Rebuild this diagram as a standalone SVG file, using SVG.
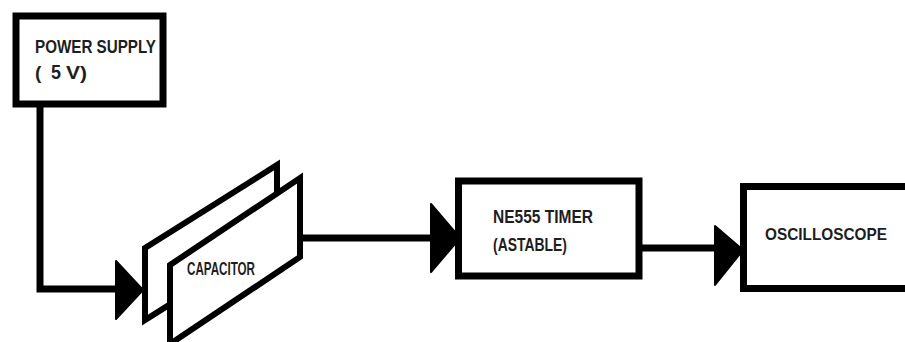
<svg xmlns="http://www.w3.org/2000/svg" width="905" height="342" viewBox="0 0 905 342">
<style>
.box{fill:#fff;stroke:#000;stroke-width:7}
.plate{fill:#fff;stroke:#000;stroke-width:6;stroke-linejoin:miter}
.wire{fill:none;stroke:#000;stroke-width:7}
.head{fill:#000;stroke:#000;stroke-width:2;stroke-linejoin:round}
.lbl{font-family:"Liberation Sans",Arial,sans-serif;font-weight:bold;fill:#1e1e1e;font-size:19px}
</style>
<rect width="905" height="342" fill="#fff"/>
<g id="connectors">
<polyline class="wire" points="40,106 40,289 120,289"/>
<polygon class="head" points="116,261 143,290 116,319"/>
<line class="wire" x1="300" y1="238" x2="434" y2="238"/>
<polygon class="head" points="431,204 460,238 431,272"/>
<line class="wire" x1="639" y1="248" x2="718" y2="248"/>
<polygon class="head" points="715,226 743,250 715,285"/>
</g>
<g id="power-supply">
<rect class="box" x="16" y="16" width="147" height="88"/>
<text class="lbl" x="35" y="53" textLength="121" lengthAdjust="spacingAndGlyphs">POWER SUPPLY</text>
<text class="lbl" x="35" y="79">(<tspan x="51" font-size="20" textLength="10" lengthAdjust="spacingAndGlyphs">5</tspan><tspan x="66" textLength="21" lengthAdjust="spacingAndGlyphs">V)</tspan></text>
</g>
<g id="capacitor">
<polygon class="plate" points="145,248 277,165 277,237 145,320"/>
<polygon class="plate" points="170,265 300,178 300,257 170,344"/>
<text class="lbl" x="187" y="275" font-size="14" textLength="68" lengthAdjust="spacingAndGlyphs">CAPACITOR</text>
</g>
<g id="ne555">
<rect class="box" x="458.5" y="181" width="180.5" height="95"/>
<text class="lbl" x="493" y="223" textLength="100" lengthAdjust="spacingAndGlyphs">NE555 TIMER</text>
<text class="lbl" x="493" y="251" textLength="74" lengthAdjust="spacingAndGlyphs">(ASTABLE)</text>
</g>
<g id="oscilloscope">
<rect class="box" x="743.5" y="186.5" width="200" height="102"/>
<text x="765" y="240" style="font-family:'Liberation Sans',Arial,sans-serif;font-weight:bold;fill:#1e1e1e;font-size:17px" textLength="122" lengthAdjust="spacingAndGlyphs">OSCILLOSCOPE</text>
</g>
</svg>
